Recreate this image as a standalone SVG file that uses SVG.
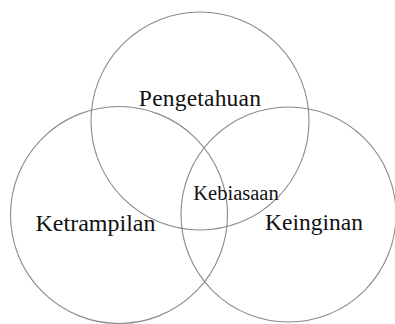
<svg xmlns="http://www.w3.org/2000/svg" width="395" height="324" viewBox="0 0 395 324">
<style>
.c{fill:none;stroke:#8a8a8a;stroke-width:1.1}
.t{font-family:"Liberation Serif","Times New Roman",serif;fill:#111}
</style>
<rect width="395" height="324" fill="#fff"/>
<g id="top"><circle class="c" cx="200" cy="121" r="109"/><text class="t" x="200" y="106" font-size="23.5" text-anchor="middle" letter-spacing="0.2">Pengetahuan</text></g>
<g id="left"><circle class="c" cx="119" cy="215" r="108.5"/><text class="t" x="95.5" y="230.5" font-size="24" text-anchor="middle">Ketrampilan</text></g>
<g id="right"><circle class="c" cx="288.5" cy="214.5" r="107.5"/><text class="t" x="314" y="230" font-size="23.5" text-anchor="middle">Keinginan</text></g>
<g id="center"><text class="t" x="236" y="200" font-size="20.5" text-anchor="middle">Kebiasaan</text></g>
</svg>
